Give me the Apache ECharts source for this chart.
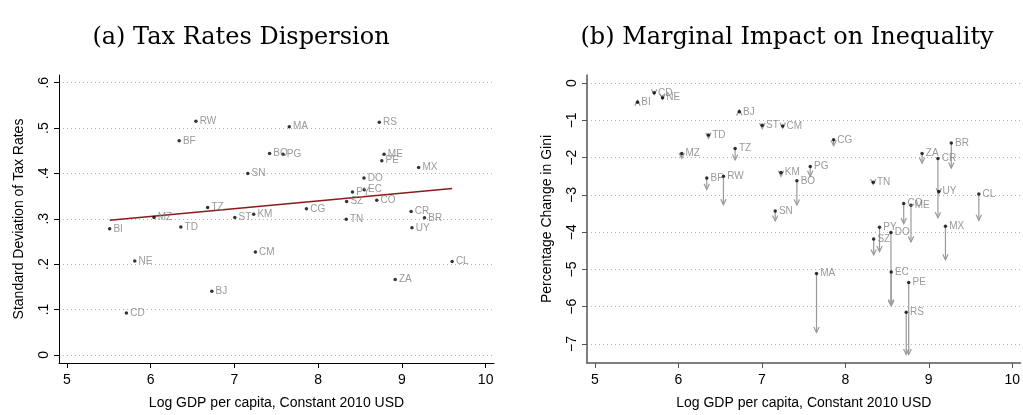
<!DOCTYPE html>
<html>
<head>
<meta charset="utf-8">
<script src="https://cdn.jsdelivr.net/npm/echarts@6/dist/echarts.min.js"></script>
<style>
  html, body { margin: 0; padding: 0; background: #fff; }
  #chart { width: 1023px; height: 415px; }
</style>
</head>
<body>
<div id="chart"></div>
<script>
// Country codes and log GDP per capita (constant 2010 USD)
const codes = ['BI','CD','NE','MZ','BF','TD','RW','TZ','BJ','ST','SN','KM','CM','BO','PG','MA',
               'CG','SZ','TN','PY','DO','EC','CO','RS','PE','ME','ZA','CR','UY','MX','BR','CL'];
const logGdp = [5.51, 5.71, 5.81, 6.04, 6.34, 6.36, 6.54, 6.68, 6.73, 7.005, 7.16, 7.23, 7.25, 7.42, 7.58, 7.655,
                7.86, 8.34, 8.335, 8.41, 8.547, 8.55, 8.70, 8.73, 8.76, 8.787, 8.92, 9.11, 9.12, 9.20, 9.27, 9.60];

// Panel (a): standard deviation of tax rates
const taxSd = [0.278, 0.092, 0.207, 0.303, 0.472, 0.282, 0.515, 0.325, 0.140, 0.303, 0.400, 0.310, 0.227, 0.444, 0.442, 0.503,
               0.322, 0.338, 0.299, 0.359, 0.390, 0.364, 0.341, 0.513, 0.428, 0.442, 0.166, 0.316, 0.280, 0.413, 0.302, 0.206];
// Fitted linear trend, endpoints
const fitX = [5.51, 9.60];
const fitY = [0.2967, 0.367];

// Panel (b): percentage change in Gini, start and end of each arrow
const giniStart = [-0.51, -0.26, -0.39, -1.89, -2.545, -1.39, -2.50, -1.755, -0.77, -1.13, -3.43, -2.40, -1.15, -2.62, -2.24, -5.11,
                   -1.52, -4.18, -2.66, -3.87, -4.01, -5.07, -3.23, -6.15, -5.35, -3.28, -1.89, -2.02, -2.91, -3.84, -1.605, -2.975];
const giniEnd   = [-0.46, -0.31, -0.43, -2.02, -2.85, -1.48, -3.26, -2.06, -0.72, -1.22, -3.70, -2.50, -1.21, -3.27, -2.50, -6.69,
                   -1.68, -4.61, -2.72, -4.52, -5.95, -5.98, -3.77, -7.28, -7.28, -4.26, -2.15, -3.61, -2.97, -4.74, -2.28, -3.68];

// Tick values and labels
const xTicks = [5, 6, 7, 8, 9, 10];
const yTicksA = [0, 0.1, 0.2, 0.3, 0.4, 0.5, 0.6];
const yLabelsA = ['0', '.1', '.2', '.3', '.4', '.5', '.6'];
const yTicksB = [0, -1, -2, -3, -4, -5, -6, -7];
const yLabelsB = ['0', '\u22121', '\u22122', '\u22123', '\u22124', '\u22125', '\u22126', '\u22127'];

const titles = ['(a) Tax Rates Dispersion', '(b) Marginal Impact on Inequality'];
const xName = 'Log GDP per capita, Constant 2010 USD';
const yNames = ['Standard Deviation of Tax Rates', 'Percentage Change in Gini'];

const sans = 'Liberation Sans';
const labelGray = '#7f7f7f';

function xAxisCfg(gridIndex, lineColor, lineWidth) {
  return {
    type: 'value', gridIndex, min: 4.905, max: 10.1,
    name: xName, nameLocation: 'middle', nameGap: 33,
    nameTextStyle: { fontFamily: sans, fontSize: 14, color: '#000' },
    axisLine: { show: true, onZero: false, lineStyle: { color: lineColor, width: lineWidth } },
    axisTick: { show: true, length: 5, customValues: xTicks, lineStyle: { color: lineColor, width: 1 } },
    axisLabel: { customValues: xTicks, margin: 10, fontFamily: sans, fontSize: 14, color: '#000' },
    splitLine: { show: false }
  };
}

function yAxisCfg(gridIndex, min, max, ticks, labels, name, lineColor, lineWidth) {
  return {
    type: 'value', gridIndex, min, max,
    name, nameLocation: 'middle', nameGap: 33, nameRotate: 90,
    nameTextStyle: { fontFamily: sans, fontSize: 14, color: '#000' },
    axisLine: { show: true, onZero: false, lineStyle: { color: lineColor, width: lineWidth } },
    axisTick: { show: true, length: 5, customValues: ticks, lineStyle: { color: lineColor, width: 1 } },
    axisLabel: {
      customValues: ticks, rotate: 90, margin: 8, fontFamily: sans, fontSize: 14, color: '#000',
      formatter: v => {
        const i = ticks.findIndex(t => Math.abs(t - v) < 1e-9);
        return i >= 0 ? labels[i] : '';
      }
    },
    splitLine: { show: true, lineStyle: { type: [1, 3], color: '#b0b0b0', width: 1 } }
  };
}

const ptsA = codes.map((c, i) => [logGdp[i], taxSd[i], c]);
const ptsB = codes.map((c, i) => [logGdp[i], giniStart[i], c]);
const arrowsB = codes.map((c, i) => [logGdp[i], giniStart[i], giniEnd[i]]);

const pointLabel = {
  show: true, position: 'right', distance: 2,
  formatter: p => p.value[2],
  color: labelGray, fontFamily: sans, fontSize: 10
};

const chart = echarts.init(document.getElementById('chart'), null, { renderer: 'canvas' });
chart.setOption({
  animation: false,
  backgroundColor: '#fff',
  graphic: [
    { type: 'text', x: 241, y: 38, style: { text: titles[0], font: '24px "DejaVu Serif"', fill: '#000', textAlign: 'center', textVerticalAlign: 'middle' } },
    { type: 'text', x: 787, y: 38, style: { text: titles[1], font: '24px "DejaVu Serif"', fill: '#000', textAlign: 'center', textVerticalAlign: 'middle' } }
  ],
  grid: [
    { left: 59, top: 75, width: 435, height: 294 },
    { left: 587, top: 75, width: 434, height: 294 }
  ],
  xAxis: [xAxisCfg(0, '#000', 1), xAxisCfg(1, '#555', 1.5)],
  yAxis: [
    yAxisCfg(0, -0.018, 0.617, yTicksA, yLabelsA, yNames[0], '#000', 1),
    yAxisCfg(1, -7.51, 0.218, yTicksB, yLabelsB, yNames[1], '#555', 1.5)
  ],
  series: [
    {
      type: 'line', xAxisIndex: 0, yAxisIndex: 0,
      data: fitX.map((x, i) => [x, fitY[i]]),
      showSymbol: false, symbol: 'none',
      lineStyle: { color: '#8b1a1a', width: 1.5 },
      z: 2
    },
    {
      type: 'scatter', xAxisIndex: 0, yAxisIndex: 0,
      data: ptsA, symbolSize: 3.5,
      itemStyle: { color: '#000' },
      label: pointLabel,
      z: 3
    },
    {
      type: 'custom', xAxisIndex: 1, yAxisIndex: 1,
      data: arrowsB,
      encode: { x: 0, y: [1, 2] },
      renderItem: (params, api) => {
        const x = api.value(0);
        const p1 = api.coord([x, api.value(1)]);
        const p2 = api.coord([x, api.value(2)]);
        const dir = p2[1] >= p1[1] ? 1 : -1;
        const len = 5.5, half = 2.7;
        const stroke = '#9a9a9a';
        return {
          type: 'group',
          children: [
            { type: 'line', shape: { x1: p1[0], y1: p1[1], x2: p2[0], y2: p2[1] }, style: { stroke, lineWidth: 1.2 } },
            { type: 'polyline', shape: { points: [[p2[0] - half, p2[1] - dir * len], [p2[0], p2[1]], [p2[0] + half, p2[1] - dir * len]] },
              style: { stroke, fill: null, lineWidth: 1.2 } }
          ]
        };
      },
      z: 2
    },
    {
      type: 'scatter', xAxisIndex: 1, yAxisIndex: 1,
      data: ptsB, symbolSize: 3.5,
      itemStyle: { color: '#000' },
      label: pointLabel,
      z: 3
    }
  ]
});
</script>
</body>
</html>
